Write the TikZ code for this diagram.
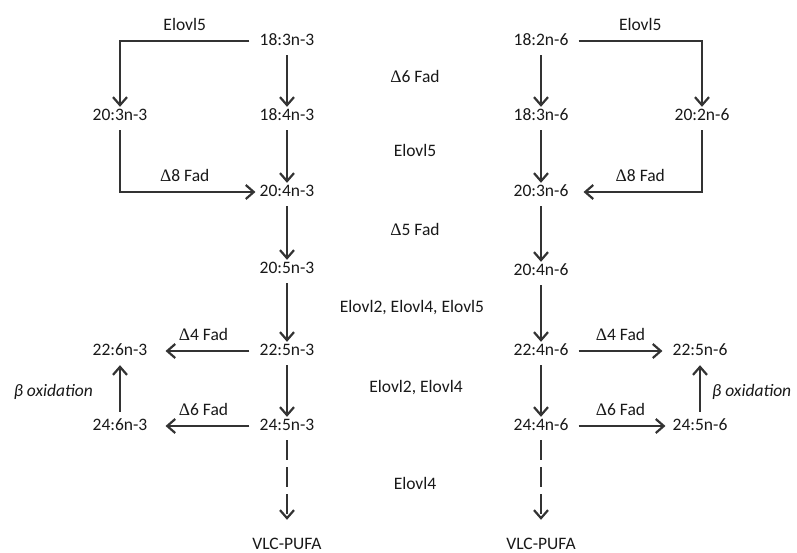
\documentclass[tikz,border=0pt]{standalone}
\usepackage{fontspec}
\setmainfont{Carlito}
\newfontfamily\symfont{Liberation Serif}
\usepackage{tikz}
\usetikzlibrary{arrows.meta}
\newcommand{\dlt}{{\symfont Δ}}

\begin{document}
\begin{tikzpicture}[x=1pt,y=-1pt,
  fa/.style={font=\fontsize{17.5}{20}\selectfont, text=black!90, inner xsep=10pt, inner ysep=6pt, text height=12pt, text depth=4pt},
  lb/.style={font=\fontsize{17.5}{20}\selectfont, text=black!90, inner sep=2pt, text height=12pt, text depth=4pt},
  rx/.style={draw=black!80, line width=2.2pt, -{Straight Barb[length=8pt,width=14pt]}},
  dn/.style={rx, shorten >=-5pt}]
  \useasboundingbox (0,0) rectangle (797,552);
  \fill[white] (0,0) rectangle (797,552);

  % n-3 series
  \node[fa] (n183) at (287,41) {18:3n-3};
  \node[fa] (n184) at (287,116) {18:4n-3};
  \node[fa] (n203) at (120,116) {20:3n-3};
  \node[fa] (n204) at (287,192) {20:4n-3};
  \node[fa] (n205) at (287,269) {20:5n-3};
  \node[fa] (n225) at (287,351) {22:5n-3};
  \node[fa] (n226) at (120,351) {22:6n-3};
  \node[fa] (n245) at (287,426) {24:5n-3};
  \node[fa] (n246) at (120,426) {24:6n-3};
  \node[fa] (vlc3) at (287,545) {VLC-PUFA};

  % n-6 series
  \node[fa] (m182) at (541,41) {18:2n-6};
  \node[fa] (m183) at (541,116) {18:3n-6};
  \node[fa] (m202) at (702,116) {20:2n-6};
  \node[fa] (m203) at (541,192) {20:3n-6};
  \node[fa] (m204) at (541,271) {20:4n-6};
  \node[fa] (m224) at (541,351) {22:4n-6};
  \node[fa] (m225) at (700,351) {22:5n-6};
  \node[fa] (m244) at (541,426) {24:4n-6};
  \node[fa] (m245) at (700,426) {24:5n-6};
  \node[fa] (vlc6) at (541,545) {VLC-PUFA};

  % Enzymes
  \node[lb] (e1) at (415,78) {\dlt6 Fad};
  \node[lb] (e2) at (415,152) {Elovl5};
  \node[lb] (e3) at (415,231) {\dlt5 Fad};
  \node[lb] (e4) at (412,308) {Elovl2, Elovl4, Elovl5};
  \node[lb] (e5) at (416,388) {Elovl2, Elovl4};
  \node[lb] (e6) at (415,485) {Elovl4};

  % Main chains
  \foreach \a/\b in {n183/n184, n184/n204, n204/n205, n205/n225, n225/n245,
                     m182/m183, m183/m203, m203/m204, m204/m224, m224/m244}
    \draw[dn] (\a) -- (\b);

  % Side routes
  \draw[dn] (n183) -| (n203) node[lb, pos=0.25, above=3pt] (l1) {Elovl5};
  \draw[rx, shorten >=-6pt] (n203) |- (n204) node[lb, pos=0.75, above=3pt] (l2) {\dlt8 Fad};
  \draw[dn] (m182) -| (m202) node[lb, pos=0.25, above=3pt] (l3) {Elovl5};
  \draw[rx, shorten >=5pt] (m202) |- (m203) node[lb, pos=0.75, above=3pt] (l4) {\dlt8 Fad};

  \draw[rx, shorten >=8pt] (n225) -- (n226) node[lb, midway, above=3pt] (l5) {\dlt4 Fad};
  \draw[rx, shorten >=8pt] (n245) -- (n246) node[lb, midway, above=3pt] (l6) {\dlt6 Fad};
  \draw[rx] (m224) -- (m225) node[lb, midway, above=3pt] (l7) {\dlt4 Fad};
  \draw[rx, shorten >=-3pt] (m244) -- (m245) node[lb, midway, above=3pt] (l8) {\dlt6 Fad};

  % beta oxidation
  \draw[rx] (n246) -- (n226) node[lb, midway, left=24pt, yshift=-4pt] (b1) {\itshape β oxidation};
  \draw[rx] (m245) -- (m225) node[lb, midway, right=9pt, yshift=-4pt] (b2) {\itshape β oxidation};

  % VLC-PUFA
  \draw[rx, dash pattern=on 20pt off 7pt, shorten >=11pt] (n245) -- (vlc3);
  \draw[rx, dash pattern=on 20pt off 7pt, shorten >=11pt] (m244) -- (vlc6);
\end{tikzpicture}
\end{document}
